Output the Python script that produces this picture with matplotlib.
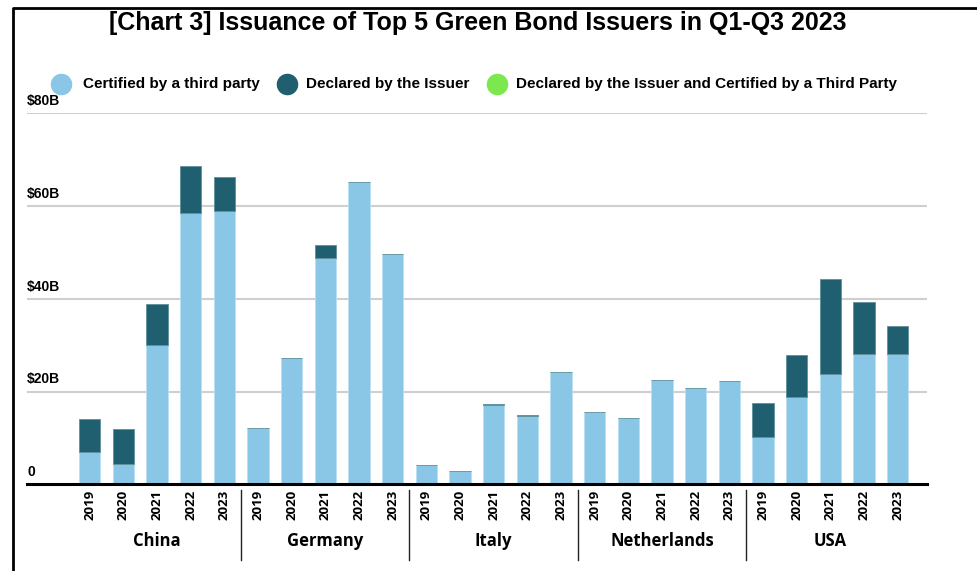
import matplotlib
matplotlib.use("Agg")
import matplotlib.pyplot as plt
from matplotlib.lines import Line2D
import numpy as np

# data ($ billions)
countries = ["China", "Germany", "Italy", "Netherlands", "USA"]
years = ["2019", "2020", "2021", "2022", "2023"]
certified = [7.0, 4.4, 30.0, 58.6, 58.9,
             12.2, 27.3, 48.7, 65.1, 49.6,
             4.2, 2.9, 17.1, 14.8, 24.3,
             15.5, 14.4, 22.5, 20.8, 22.2,
             10.1, 18.9, 23.8, 28.1, 28.1]
declared = [7.0, 7.5, 8.9, 10.0, 7.3,
            0.0, 0.0, 2.8, 0.0, 0.0,
            0.0, 0.0, 0.2, 0.2, 0.0,
            0.0, 0.0, 0.0, 0.0, 0.0,
            7.5, 9.0, 20.5, 11.3, 6.0]
both = [0.0] * 25
y_ticks = [0, 20, 40, 60, 80]
y_labels = ["0", "$20B", "$40B", "$60B", "$80B"]
legend_labels = ["Certified by a third party", "Declared by the Issuer",
                 "Declared by the Issuer and Certified by a Third Party"]

c_cert = "#8ac7e7"
c_decl = "#205f6f"
c_both = "#7de84e"

W, H = 977, 571
fig = plt.figure(figsize=(W / 100, H / 100), dpi=100)
# axes placed in pixel terms
left, right, top, bottom = 27, 927, 113.3, 484.3
ax = fig.add_axes([left / W, 1 - bottom / H, (right - left) / W, (bottom - top) / H])

x = np.arange(len(certified))
cert = np.array(certified)
decl = np.array(declared)
ax.bar(x, cert, width=0.63, color=c_cert, edgecolor="#b9e0f3", linewidth=0.6, zorder=3)
ax.bar(x, decl, width=0.63, bottom=cert, color=c_decl, edgecolor="#5e8f9b", linewidth=0.6, zorder=3)
ax.bar(x, both, width=0.63, bottom=cert + decl, color=c_both, zorder=3)

ax.set_xlim(-1.86, 24.87)
ax.set_ylim(0, 80)
for t in y_ticks[1:]:
    ax.axhline(t, color="#cfcfcf", lw=1.5, zorder=1)
for t, lab in zip(y_ticks, y_labels):
    ax.text(0, t + 1.1, lab, transform=ax.get_yaxis_transform(), ha="left", va="bottom",
            fontsize=10, fontweight="bold", family="Liberation Sans")

for s in ["top", "right", "left"]:
    ax.spines[s].set_visible(False)
ax.spines["bottom"].set_linewidth(2.2)
ax.spines["bottom"].set_zorder(4)
ax.set_yticks([])
ax.set_xticks(x)
ax.set_xticklabels(years * len(countries), rotation=90, fontsize=9.5, fontweight="bold",
                   family="Open Sans", va="top")
ax.tick_params(axis="x", length=0, pad=4)

# country labels and group separators
for i, c in enumerate(countries):
    ax.text(i * 5 + 2, -0.152, c, transform=ax.get_xaxis_transform(), ha="center", va="center",
            fontsize=12, fontweight="bold", family="Open Sans")
for i in range(1, len(countries)):
    ax.plot([i * 5 - 0.5] * 2, [-0.016, -0.204], transform=ax.get_xaxis_transform(),
            color="#222222", lw=1, clip_on=False)

fig.text(478 / W, 1 - 23 / H, "[Chart 3] Issuance of Top 5 Green Bond Issuers in Q1-Q3 2023",
         ha="center", va="center", fontsize=18, fontweight="bold", family="Liberation Sans")

# legend drawn by hand so the spacing matches
for cx, tx, col, lab in zip([61, 287, 497], [83, 306, 516], [c_cert, c_decl, c_both], legend_labels):
    fig.add_artist(Line2D([cx / W], [1 - 84 / H], marker="o", ms=14.5, ls="", color=col,
                          transform=fig.transFigure))
    fig.text(tx / W, 1 - 84 / H, lab, ha="left", va="center", fontsize=11, fontweight="bold",
             family="Liberation Sans")

# outer frame (left and top edge)
fig.add_artist(Line2D([12.5 / W, 12.5 / W, 1], [0, 1 - 7.5 / H, 1 - 7.5 / H],
                      transform=fig.transFigure, color="black", lw=2))

fig.savefig("out.png", dpi=100)
